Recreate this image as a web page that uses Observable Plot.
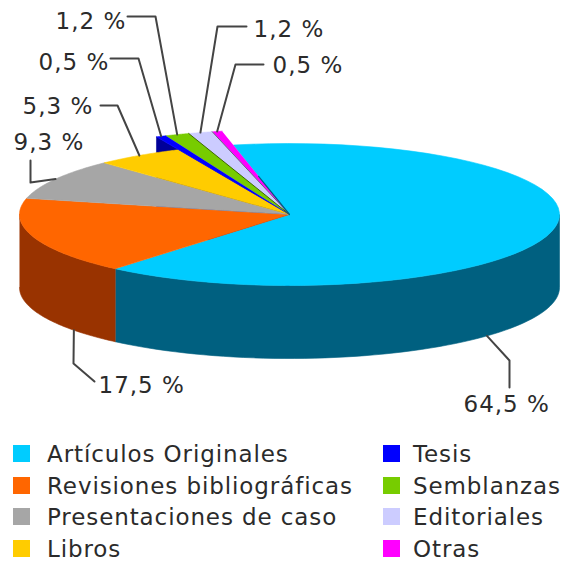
<!DOCTYPE html>
<html lang="es">
<head>
<meta charset="utf-8">
<script src="https://cdn.jsdelivr.net/npm/d3@7"></script>
<script src="https://cdn.jsdelivr.net/npm/@observablehq/plot@0.6"></script>
<style>
  html,body{margin:0;padding:0;background:#fff;width:565px;height:563px;overflow:hidden}
  #chart svg{display:block}
  #chart text{letter-spacing:1px}
  #legend{position:relative;height:138px;font:23px "DejaVu Sans",sans-serif;letter-spacing:.9px;color:#2b2b2b}
  .item{position:absolute;white-space:nowrap;line-height:32px;height:32px}
  .sw{display:inline-block;position:absolute;left:0;top:7px;width:17px;height:17px}
  .lb{position:absolute;left:34px;top:0}
</style>
</head>
<body>
<div id="chart"></div>
<div id="legend"></div>
<script>
const categories = ["Artículos Originales","Revisiones bibliográficas","Presentaciones de caso","Libros","Tesis","Semblanzas","Editoriales","Otras"];
const percents   = [64.5,17.5,9.3,5.3,0.5,1.2,1.2,0.5];
const labels     = ["64,5 %","17,5 %","9,3 %","5,3 %","0,5 %","1,2 %","1,2 %","0,5 %"];
const topColors  = ["#00CCFF","#FF6600","#A6A6A6","#FFCC00","#0000FF","#77CC00","#CCCCFF","#FF00FF"];
const sideColors = ["#006080","#993300","#666666","#997A00","#000099","#3D6600","#66667F","#770077"];

// layout of the 3D pie, in the chart's own units
const W = 565, H = 425;
const cx = 289, cy = 214, rx = 270, ry = 71, depth = 73;
const startDeg = 102, smallStretch = 1.2;
const rad = d => d * Math.PI / 180;
const pt = (t, k = 1, dz = 0) => ({x: cx + rx * k * Math.cos(rad(t)), y: cy - ry * k * Math.sin(rad(t)) + dz});

// slices clockwise from the start angle
let acc = startDeg;
const slices = categories.map((name, i) => {
  const t0 = acc, t1 = acc - percents[i] * 3.6;
  acc = t1;
  return {name, i, t0, t1, k: percents[i] < 2 ? smallStretch : 1, top: topColors[i], side: sideColors[i], label: labels[i]};
});
const arc = (t0, t1, k = 1, dz = 0) => d3.range(0, 61).map(j => pt(t0 + (t1 - t0) * j / 60, k, dz));
const topPoly = s => [pt(0, 0), ...arc(s.t0, s.t1, s.k)];
const fill = (pts, color) => Plot.line(pts, {x: "x", y: "y", fill: color, stroke: color, strokeWidth: 0.6});

// outer front wall: part of a slice's rim below the ellipse's horizontal axis
const wallPoly = (t0, t1) => [...arc(t0, t1), ...arc(t1, t0, 1, depth)];
const cyan = slices[0], orange = slices[1];
const frontWalls = [
  fill(wallPoly(cyan.t1, 0), cyan.side),
  fill(wallPoly(-180, cyan.t1), orange.side)
];

// side wall of the stretched slice that closes the fan (Tesis)
const tesis = slices[4];
const tesisWall = fill([pt(0,0), pt(tesis.t0, tesis.k), pt(tesis.t0, tesis.k, depth), pt(0,0,depth)], tesis.side);

// thin dark edge between neighbouring stretched slices
const smallEdges = [5,6].map(i => Plot.line([pt(0,0), pt(slices[i].t1, slices[i].k)], {x:"x", y:"y", stroke: slices[i].side, strokeWidth: 1}));
const apexEdge = Plot.line([pt(0,0), pt(cyan.t0, 0.55)], {x:"x", y:"y", stroke: cyan.side, strokeWidth: 1.2});

// leaders: rim anchor (derived from the slice, or given angle on the wall), then elbow and end
const leaderLayout = [
  {i:0, t:-43, dz:depth, elbow:[509,360], end:[509,387], text:[463,404]},
  {i:1, t:-143, dz:depth, elbow:[73,363], end:[94,381], text:[98,385]},
  {i:2, elbow:[30,182], end:[30,160], text:[13,142]},
  {i:3, elbow:[117,105], end:[100,105], text:[22,106]},
  {i:4, elbow:[138,58], end:[110,58], text:[38,62]},
  {i:5, elbow:[155,16], end:[127,16], text:[55,21]},
  {i:6, elbow:[217,26], end:[246,26], text:[253,29]},
  {i:7, elbow:[235,64], end:[263,64], text:[272,65]}
];
const leaderPts = leaderLayout.flatMap(l => {
  const s = slices[l.i];
  const a = l.t !== undefined ? pt(l.t, 1, l.dz) : pt((s.t0 + s.t1) / 2, s.k);
  return [{...a, z:l.i}, {x:l.elbow[0], y:l.elbow[1], z:l.i}, {x:l.end[0], y:l.end[1], z:l.i}];
});
const labelRows = leaderLayout.map(l => ({x:l.text[0], y:l.text[1], t:slices[l.i].label}));

const chart = Plot.plot({
  width: W, height: H,
  margin: 0,
  x: {domain: [0, W], range: [0, W], axis: null},
  y: {domain: [0, H], range: [0, H], axis: null},
  style: {background: "#fff"},
  marks: [
    tesisWall,
    ...frontWalls,
    ...[0,1,2,3].map(i => fill(topPoly(slices[i]), slices[i].top)),
    ...[7,6,5,4].map(i => fill(topPoly(slices[i]), slices[i].top)),
    ...smallEdges,
    apexEdge,
    Plot.line(leaderPts, {x:"x", y:"y", z:"z", stroke:"#444", strokeWidth:2}),
    Plot.text(labelRows, {x:"x", y:"y", text:"t", textAnchor:"start", fontSize:23, fontFamily:"DejaVu Sans", fill:"#2b2b2b"})
  ]
});
document.getElementById("chart").append(chart);

// legend below the svg: two columns of four
const legend = document.getElementById("legend");
categories.forEach((name, i) => {
  const col = i < 4 ? 13 : 383, row = i % 4;
  const el = document.createElement("div");
  el.className = "item";
  el.style.left = col + "px";
  el.style.top = (13 + row * 31.7) + "px";
  el.innerHTML = `<span class="sw" style="background:${topColors[i]}"></span><span class="lb" style="left:${i<4?34:30}px">${name}</span>`;
  legend.append(el);
});
</script>
</body>
</html>
